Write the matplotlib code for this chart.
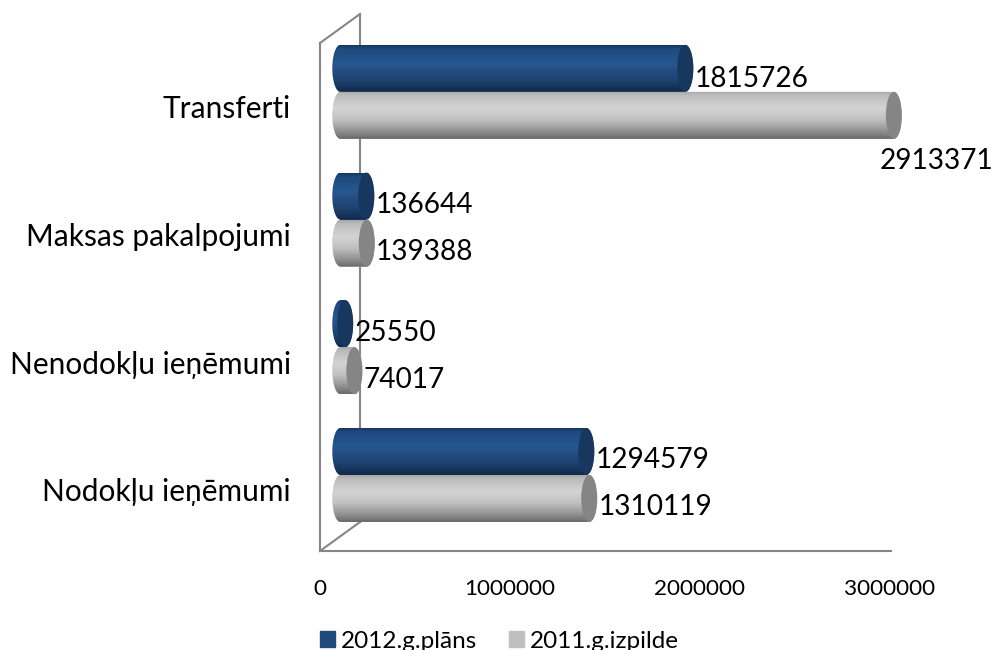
import numpy as np
import matplotlib
matplotlib.use("Agg")
import matplotlib.pyplot as plt
from matplotlib.colors import LinearSegmentedColormap
from matplotlib.patches import Ellipse, Polygon, Patch
from matplotlib.transforms import Affine2D

categories = ["Nodokļu ieņēmumi", "Nenodokļu ieņēmumi", "Maksas pakalpojumi", "Transferti"]
plan_2012 = [1294579, 25550, 136644, 1815726]
actual_2011 = [1310119, 74017, 139388, 2913371]
series_names = ["2012.g.plāns", "2011.g.izpilde"]
xticks = [0, 1000000, 2000000, 3000000]

plt.rcParams["font.family"] = ["Lato", "DejaVu Sans"]
W, H = 995, 650
fig = plt.figure(figsize=(W / 100, H / 100), dpi=100)
L, R, T, B = 320, 891, 43, 551
ax = fig.add_axes([L / W, 1 - B / H, (R - L) / W, (B - T) / H])
XMAX = 3000000 * (R - L) / 570
YLIM = (-0.478, 3.50)
GRAY = "#868686"
ppx = (R - L) / XMAX          # pixels per value unit
ppy = (B - T) / (YLIM[1] - YLIM[0])
BAR_H = 47 / ppy
CAP_W = 16 / ppx

tr = ax.transData + Affine2D().translate(20.3, 15)
wall = ax.transAxes + Affine2D().translate(40, 29)

# back wall and floor edges
ax.plot([0, 0], [0, 1], color=GRAY, lw=1.5, transform=wall, clip_on=False, zorder=1)
ax.plot([0, 40 / (R - L)], [0, 29 / (B - T)], color=GRAY, lw=1.5, transform=ax.transAxes, clip_on=False, zorder=1)
ax.plot([0, 40 / (R - L)], [1, 1 + 29 / (B - T)], color=GRAY, lw=1.5, transform=ax.transAxes, clip_on=False, zorder=1)

cm_blue = LinearSegmentedColormap.from_list("b", [(0, "#17375e"), (0.08, "#1f4a7f"), (0.4, "#28568f"),
                                                  (0.75, "#1c4270"), (1, "#12294a")])
cm_gray = LinearSegmentedColormap.from_list("g", [(0, "#a6a6a6"), (0.08, "#bcbcbc"), (0.35, "#d4d4d4"),
                                                  (0.6, "#c0c0c0"), (0.85, "#8e8e8e"), (1, "#696969")])
grad = np.linspace(0, 1, 128).reshape(-1, 1)


def cylinder(y, v, cmap, base, cap, z):
    ax.barh(y, v, height=BAR_H, color=base, transform=tr, zorder=z, clip_on=False)
    t = np.linspace(-np.pi / 2, np.pi / 2, 60)
    right = np.column_stack([v + CAP_W / 2 * np.cos(t), y + BAR_H / 2 * np.sin(t)])
    left = np.column_stack([-CAP_W / 2 * np.cos(t[::-1]), y + BAR_H / 2 * np.sin(t[::-1])])
    outline = Polygon(np.vstack([right, left]), closed=True, transform=tr, fc="none", ec="none", clip_on=False)
    ax.add_patch(outline)
    im = ax.imshow(grad, cmap=cmap, aspect="auto", zorder=z + 0.1, interpolation="bilinear",
                   extent=(-CAP_W, v + CAP_W, y - BAR_H / 2, y + BAR_H / 2), transform=tr)
    im.set_clip_box(fig.bbox)
    im.set_clip_path(outline)
    ax.add_patch(Ellipse((v, y), CAP_W, BAR_H, fc=cap, ec="none", transform=tr, zorder=z + 0.2, clip_on=False))


def label(y, v, dx=9, dy=-9):
    ax.annotate(str(v), (v, y), xycoords=tr, xytext=(dx, dy), textcoords="offset pixels",
                ha="left", va="center", fontsize=FS, color="black", zorder=10, annotation_clip=False)


FS = 20.2
for i in range(len(categories)):
    cylinder(i + BAR_H / 2, plan_2012[i], cm_blue, "#1f497d", "#17375e", 3)
    cylinder(i - BAR_H / 2, actual_2011[i], cm_gray, "#bfbfbf", "#858585", 4)
for i in range(len(categories)):
    label(i + BAR_H / 2, plan_2012[i], dy=-11 if i == 3 else -9)
    if i == 3:
        label(i - BAR_H / 2, actual_2011[i], dx=-14.5, dy=-46)
    else:
        label(i - BAR_H / 2, actual_2011[i], dy=-9)

ax.set_xlim(0, XMAX)
ax.set_ylim(*YLIM)
for s in ("top", "right"):
    ax.spines[s].set_visible(False)
for s in ("left", "bottom"):
    ax.spines[s].set_color(GRAY)
    ax.spines[s].set_linewidth(1.5)
ax.set_xticks(xticks, [str(x) for x in xticks], fontsize=16.2)
ax.set_yticks(range(len(categories)), categories, fontsize=21.5)
ax.tick_params(axis="x", length=0, pad=20)
ax.tick_params(axis="y", length=0, pad=21)

handles = [Patch(color="#1f497d"), Patch(color="#bfbfbf")]
fig.legend(handles, series_names, loc="center left", bbox_to_anchor=(320 / W, 1 - 641 / H), ncol=2,
           frameon=False, fontsize=17.5, handlelength=0.62, handleheight=0.62, handletextpad=0.25,
           columnspacing=1.28, borderpad=0, borderaxespad=0)

fig.savefig("out.png", dpi=100)
